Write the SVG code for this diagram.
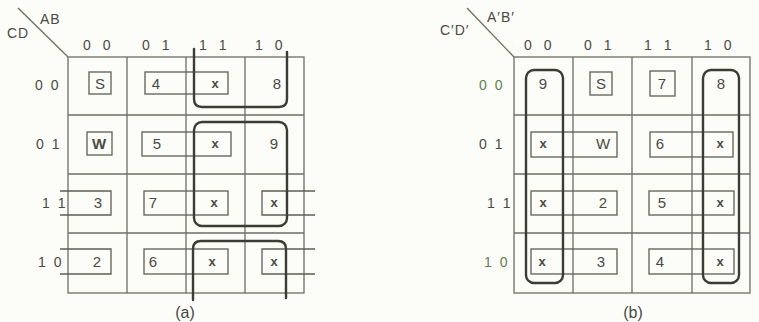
<svg xmlns="http://www.w3.org/2000/svg" width="759" height="322" viewBox="0 0 759 322">
<style>
.bg{fill:#fcfcf8}
.grid{fill:none;stroke:#6e6e64;stroke-width:1.3}
.box{fill:none;stroke:#5e5e55;stroke-width:1.3}
.loop{fill:none;stroke:#3c3c36;stroke-width:2.4;stroke-linecap:round;stroke-linejoin:round}
text{font-family:"Liberation Sans",Arial,sans-serif;fill:#4a4a44}
.hd{font-size:14px;letter-spacing:4px}
.rl{font-size:14px;letter-spacing:2px}
.lb{font-size:14px;letter-spacing:1px}
.cell{font-size:15px;text-anchor:middle}
.x{font-size:13px;text-anchor:middle;font-weight:bold}
.cap{font-size:16px;text-anchor:middle}
.grn{fill:#5f8050}
</style>
<rect class="bg" x="0" y="0" width="759" height="322"/>

<g id="map-a">
  <g id="grid-a">
    <line class="grid" x1="18" y1="8" x2="68" y2="57"/>
    <rect class="grid" x="68" y="57" width="236" height="236"/>
    <line class="grid" x1="127" y1="57" x2="127" y2="293"/>
    <line class="grid" x1="186" y1="57" x2="186" y2="293"/>
    <line class="grid" x1="245" y1="57" x2="245" y2="293"/>
    <line class="grid" x1="68" y1="115" x2="304" y2="115"/>
    <line class="grid" x1="68" y1="174" x2="304" y2="174"/>
    <line class="grid" x1="68" y1="233" x2="304" y2="233"/>
  </g>
  <g id="labels-a">
    <text class="lb" x="40" y="24">AB</text>
    <text class="lb" x="7" y="38">CD</text>
    <text class="hd" x="83" y="50">0 0</text>
    <text class="hd" x="142" y="50">0 1</text>
    <text class="hd" x="199" y="50">1 1</text>
    <text class="hd" x="255" y="50">1 0</text>
    <text class="rl" x="35" y="90">0 0</text>
    <text class="rl" x="36" y="149">0 1</text>
    <text class="rl" x="42" y="208">1 1</text>
    <text class="rl" x="38" y="267">1 0</text>
  </g>
  <g id="boxes-a">
    <rect class="box" x="89" y="72" width="22" height="22"/>
    <rect class="box" x="145" y="72" width="83" height="22"/>
    <rect class="box" x="87" y="132" width="25" height="23"/>
    <rect class="box" x="142" y="132" width="89" height="24"/>
    <path class="box" d="M60 191 H111 V215 H60"/>
    <rect class="box" x="144" y="191" width="84" height="24"/>
    <path class="box" d="M315 191 H262 V215 H315"/>
    <path class="box" d="M60 249 H111 V274 H60"/>
    <rect class="box" x="144" y="249" width="84" height="25"/>
    <path class="box" d="M315 249 H262 V274 H315"/>
  </g>
  <g id="cells-a">
    <text class="cell" x="100" y="89">S</text>
    <text class="cell" x="156" y="89">4</text>
    <text class="x" x="215" y="88">x</text>
    <text class="cell" x="277" y="89">8</text>
    <text class="cell" x="99" y="149" font-weight="bold">W</text>
    <text class="cell" x="157" y="149">5</text>
    <text class="x" x="215" y="148">x</text>
    <text class="cell" x="274" y="149">9</text>
    <text class="cell" x="98" y="208">3</text>
    <text class="cell" x="153" y="208">7</text>
    <text class="x" x="214" y="207">x</text>
    <text class="x" x="274" y="207">x</text>
    <text class="cell" x="97" y="267">2</text>
    <text class="cell" x="153" y="267">6</text>
    <text class="x" x="212" y="266">x</text>
    <text class="x" x="274" y="266">x</text>
  </g>
  <g id="loops-a">
    <path class="loop" d="M194 49 V99 Q194 107 202 107 H279 Q287 107 287 99 V52"/>
    <rect class="loop" x="194" y="122" width="93" height="104" rx="8"/>
    <path class="loop" d="M193 300 V249 Q193 241 201 241 H278 Q286 241 286 249 V298"/>
  </g>
  <text class="cap" x="185" y="318">(a)</text>
</g>

<g id="map-b">
  <g id="grid-b">
    <line class="grid" x1="467" y1="8" x2="514" y2="57"/>
    <rect class="grid" x="514" y="57" width="236" height="236"/>
    <line class="grid" x1="573" y1="57" x2="573" y2="293"/>
    <line class="grid" x1="632" y1="57" x2="632" y2="293"/>
    <line class="grid" x1="692" y1="57" x2="692" y2="293"/>
    <line class="grid" x1="514" y1="115" x2="750" y2="115"/>
    <line class="grid" x1="514" y1="174" x2="750" y2="174"/>
    <line class="grid" x1="514" y1="233" x2="750" y2="233"/>
  </g>
  <g id="labels-b">
    <text class="lb" x="487" y="22">A′B′</text>
    <text class="lb" x="440" y="35">C′D′</text>
    <text class="hd" x="524" y="50">0 0</text>
    <text class="hd" x="584" y="50">0 1</text>
    <text class="hd" x="644" y="50">1 1</text>
    <text class="hd" x="704" y="50">1 0</text>
    <text class="rl grn" x="479" y="90">0 0</text>
    <text class="rl" x="479" y="149">0 1</text>
    <text class="rl" x="487" y="208">1 1</text>
    <text class="rl grn" x="484" y="267">1 0</text>
  </g>
  <g id="boxes-b">
    <rect class="box" x="590" y="72" width="22" height="23"/>
    <rect class="box" x="650" y="71" width="25" height="25"/>
    <rect class="box" x="531" y="132" width="86" height="25"/>
    <rect class="box" x="650" y="132" width="83" height="25"/>
    <rect class="box" x="531" y="191" width="86" height="24"/>
    <rect class="box" x="649" y="191" width="85" height="24"/>
    <rect class="box" x="531" y="249" width="86" height="25"/>
    <rect class="box" x="649" y="249" width="85" height="25"/>
  </g>
  <g id="cells-b">
    <text class="cell" x="543" y="89">9</text>
    <text class="cell" x="601" y="89">S</text>
    <text class="cell" x="662" y="89">7</text>
    <text class="cell" x="721" y="89">8</text>
    <text class="x" x="543" y="148">x</text>
    <text class="cell" x="603" y="149">W</text>
    <text class="cell" x="660" y="149">6</text>
    <text class="x" x="720" y="148">x</text>
    <text class="x" x="543" y="207">x</text>
    <text class="cell" x="603" y="208">2</text>
    <text class="cell" x="662" y="208">5</text>
    <text class="x" x="720" y="207">x</text>
    <text class="x" x="542" y="266">x</text>
    <text class="cell" x="601" y="267">3</text>
    <text class="cell" x="660" y="267">4</text>
    <text class="x" x="720" y="266">x</text>
  </g>
  <g id="loops-b">
    <rect class="loop" x="526" y="70" width="37" height="213" rx="8"/>
    <rect class="loop" x="703" y="70" width="36" height="213" rx="8"/>
  </g>
  <text class="cap" x="633" y="318">(b)</text>
</g>
</svg>
